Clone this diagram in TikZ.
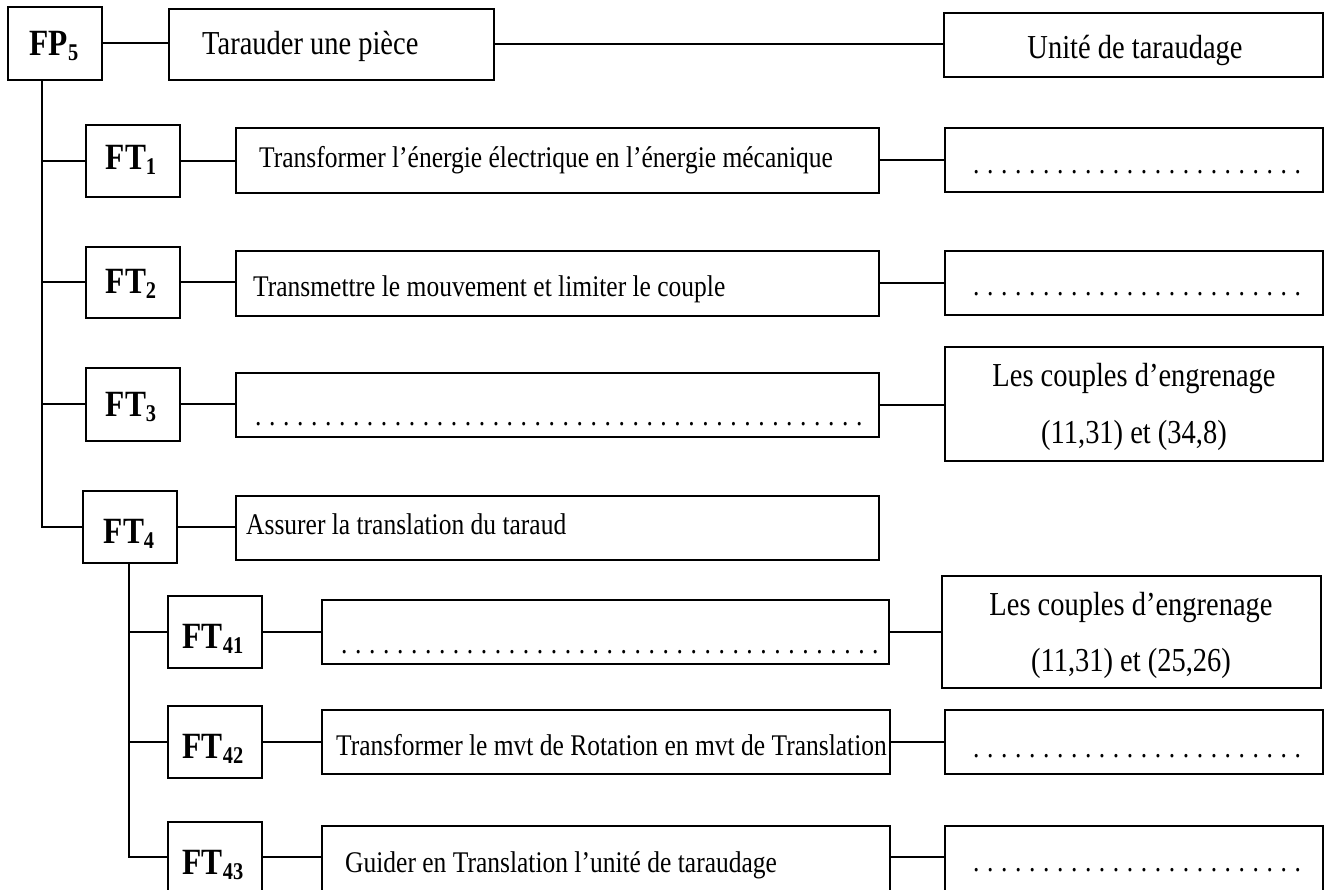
\documentclass[tikz,border=0pt]{standalone}
\usepackage{fontspec}
\setmainfont[FakeStretch=0.85]{Liberation Serif}
\usetikzlibrary{fit}
\newcommand\sbx[1]{\raisebox{-5pt}{\fontsize{24}{24}\selectfont #1}}
\newcommand\dotrow[1]{\foreach \i in {1,...,#1}{.\hspace{7.6pt}}}
\tikzset{
  box/.style={draw, line width=2pt, inner sep=0pt},
  ln/.style={line width=2pt},
  lab/.style={font=\fontsize{37}{37}\selectfont\bfseries, inner sep=0pt, anchor=base},
  big/.style={font=\fontsize{33.5}{40}\selectfont, inner sep=0pt},
  mid/.style={font=\fontsize{30}{36}\selectfont, inner sep=0pt},
}
\begin{document}
\begin{tikzpicture}[x=1pt,y=-1pt]
\useasboundingbox (0,0) rectangle (1328,890);
\clip (0,0) rectangle (1328,890);
\fill[white] (0,0) rectangle (1328,890);
% boxes
\node[box, fit={(8,7)(102,80)}] (fp) {};
\node[box, fit={(169,9)(494,80)}] (tar) {};
\node[box, fit={(944,13)(1323,77)}] (un) {};
\node[box, fit={(86,125)(180,197)}] (ft1) {};
\node[box, fit={(236,128)(879,193)}] (f1) {};
\node[box, fit={(945,128)(1323,192)}] (r1) {};
\node[box, fit={(86,247)(180,318)}] (ft2) {};
\node[box, fit={(236,251)(879,316)}] (f2) {};
\node[box, fit={(945,251)(1323,315)}] (r2) {};
\node[box, fit={(86,368)(180,441)}] (ft3) {};
\node[box, fit={(236,373)(879,437)}] (f3) {};
\node[box, fit={(945,347)(1323,461)}] (r3) {};
\node[box, fit={(83,491)(177,563)}] (ft4) {};
\node[box, fit={(236,496)(879,560)}] (f4) {};
\node[box, fit={(168,596)(262,668)}] (ft41) {};
\node[box, fit={(322,600)(889,664)}] (f41) {};
\node[box, fit={(942,576)(1321,688)}] (r41) {};
\node[box, fit={(168,706)(262,778)}] (ft42) {};
\node[box, fit={(322,710)(890,774)}] (f42) {};
\node[box, fit={(945,710)(1323,774)}] (r42) {};
\node[box, fit={(168,822)(262,900)}] (ft43) {};
\node[box, fit={(322,826)(890,900)}] (f43) {};
\node[box, fit={(945,826)(1323,900)}] (r43) {};
% texts
\node[lab] (tfp) at (54,56) {FP\sbx{5}};
\node[big, anchor=base west] (ttar) at (202,55) {Tarauder une pièce};
\node[big, anchor=base] (tun) at (1135,59) {Unité de taraudage};
\node[lab] (tft1) at (131,170) {FT\sbx{1}};
\node[mid, anchor=base west] (tf1) at (259,168) {Transformer l’énergie électrique en l’énergie mécanique};
\node[mid, anchor=base west] (tr1) at (973,174) {\dotrow{24}};
\node[lab] (tft2) at (131,294) {FT\sbx{2}};
\node[mid, anchor=base west] (tf2) at (253,297) {Transmettre le mouvement et limiter le couple};
\node[mid, anchor=base west] (tr2) at (973,296) {\dotrow{24}};
\node[lab] (tft3) at (131,417) {FT\sbx{3}};
\node[mid, anchor=base west] (tf3) at (255,425) {\dotrow{44}};
\node[big, anchor=base] (tr3a) at (1134,387) {Les couples d’engrenage};
\node[big, anchor=base] (tr3b) at (1134,443) {(11,31) et (34,8)};
\node[lab] (tft4) at (129,543) {FT\sbx{4}};
\node[mid, anchor=base west] (tf4) at (246,534) {Assurer la translation du taraud};
\node[lab] (tft41) at (213,648) {FT\sbx{41}};
\node[mid, anchor=base west] (tf41) at (341,653) {\dotrow{39}};
\node[big, anchor=base] (tr41a) at (1131,615) {Les couples d’engrenage};
\node[big, anchor=base] (tr41b) at (1131,671) {(11,31) et (25,26)};
\node[lab] (tft42) at (213,758) {FT\sbx{42}};
\node[mid, anchor=base west] (tf42) at (336,755) {Transformer le mvt de Rotation en mvt de Translation};
\node[mid, anchor=base west] (tr42) at (973,757) {\dotrow{24}};
\node[lab] (tft43) at (213,874) {FT\sbx{43}};
\node[mid, anchor=base west] (tf43) at (345,872) {Guider en Translation l’unité de taraudage};
\node[mid, anchor=base west] (tr43) at (973,871) {\dotrow{24}};
% connectors
\coordinate (trunk) at (42,80);
\coordinate (sub43) at (129,857);
\draw[ln] (fp.east) -- (fp.east -| tar.west);
\draw[ln] (tar.east) -- (tar.east -| un.west);
\draw[ln] (trunk) |- (ft4.west);
\draw[ln] (ft1.west) -- (ft1.west -| trunk);
\draw[ln] (ft2.west) -- (ft2.west -| trunk);
\draw[ln] (ft3.west) -- (ft3.west -| trunk);
\draw[ln] (ft1.east) -- (ft1.east -| f1.west);
\draw[ln] (f1.east) -- (f1.east -| r1.west);
\draw[ln] (ft2.east) -- (ft2.east -| f2.west);
\draw[ln] (f2.east) -- (f2.east -| r2.west);
\draw[ln] (ft3.east) -- (ft3.east -| f3.west);
\draw[ln] (f3.east) -- (f3.east -| r3.west);
\draw[ln] (ft4.east) -- (ft4.east -| f4.west);
\draw[ln] (ft4.south -| sub43) -- (sub43) -- (ft43.west |- sub43);
\draw[ln] (ft41.west) -- (ft41.west -| sub43);
\draw[ln] (ft42.west) -- (ft42.west -| sub43);
\draw[ln] (ft41.east) -- (ft41.east -| f41.west);
\draw[ln] (f41.east) -- (f41.east -| r41.west);
\draw[ln] (ft42.east) -- (ft42.east -| f42.west);
\draw[ln] (f42.east) -- (f42.east -| r42.west);
\draw[ln] (ft43.east |- sub43) -- (f43.west |- sub43);
\draw[ln] (f43.east |- sub43) -- (r43.west |- sub43);
\end{tikzpicture}
\end{document}
